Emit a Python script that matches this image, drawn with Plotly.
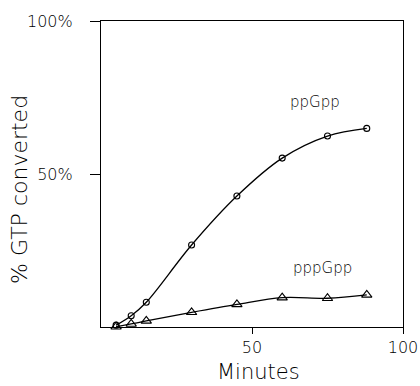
import plotly.graph_objects as go

minutes = [5, 10, 15, 30, 45, 60, 75, 88]
ppgpp = [0.6, 3.7, 8.1, 26.8, 42.8, 55.2, 62.4, 64.9]
pppgpp = [0.1, 1.0, 2.0, 4.8, 7.4, 9.6, 9.4, 10.5]

y_tickvals = [50, 100]
y_ticktext = ["50%", "100%"]
x_tickvals = [50, 100]
x_ticktext = ["50", "100"]

FONT = "DejaVu Sans"

fig = go.Figure()
fig.add_trace(go.Scatter(
    x=minutes, y=ppgpp, mode="lines+markers",
    line=dict(color="black", width=1.3, shape="spline", smoothing=1.0),
    marker=dict(symbol="circle-open", size=6, color="black", line=dict(width=1.1)),
    showlegend=False, cliponaxis=False))
fig.add_trace(go.Scatter(
    x=minutes, y=pppgpp, mode="lines+markers",
    line=dict(color="black", width=1.3, shape="spline", smoothing=1.0),
    marker=dict(symbol="triangle-up-open", size=9, color="black", line=dict(width=1.1)),
    showlegend=False, cliponaxis=False))

fig.add_annotation(x=71, y=73.5, text="ppGpp", showarrow=False,
                   font=dict(family=FONT, size=15, color="black", weight=300))
fig.add_annotation(x=73.5, y=19.3, text="pppGpp", showarrow=False,
                   font=dict(family=FONT, size=15, color="black", weight=300))
# axis titles
fig.add_annotation(xref="paper", yref="paper", x=-0.268, y=0.448,
                   text="% GTP converted", textangle=-90, showarrow=False,
                   xanchor="center", yanchor="middle",
                   font=dict(family=FONT, size=22, color="black", weight=300))
fig.add_annotation(xref="paper", yref="paper", x=0.52, y=-0.148,
                   text="Minutes", showarrow=False,
                   xanchor="center", yanchor="middle",
                   font=dict(family=FONT, size=21, color="black", weight=300))

fig.update_layout(
    width=420, height=386,
    margin=dict(l=101, r=17, t=21, b=59, autoexpand=False),
    paper_bgcolor="white", plot_bgcolor="white",
    font=dict(family=FONT, color="black"),
)
fig.update_xaxes(
    range=[0, 100], tickvals=x_tickvals, ticktext=x_ticktext, automargin=False,
    showgrid=False, zeroline=False, showline=True, linecolor="black", linewidth=1.1,
    mirror=True, ticks="outside", ticklen=6, tickcolor="black",
    ticklabelstandoff=0,
    tickfont=dict(family=FONT, size=16, color="black", weight=300),
)
fig.update_yaxes(
    range=[0, 100], tickvals=y_tickvals, ticktext=y_ticktext, automargin=False,
    showgrid=False, zeroline=False, showline=True, linecolor="black", linewidth=1.1,
    mirror=True, ticks="outside", ticklen=10, tickcolor="black",
    ticklabelstandoff=14,
    tickfont=dict(family=FONT, size=16, color="black", weight=300),
)

fig.write_html("out.html", config={"displayModeBar": False},
               post_script="document.body.style.margin='0';document.body.style.overflow='hidden';")
